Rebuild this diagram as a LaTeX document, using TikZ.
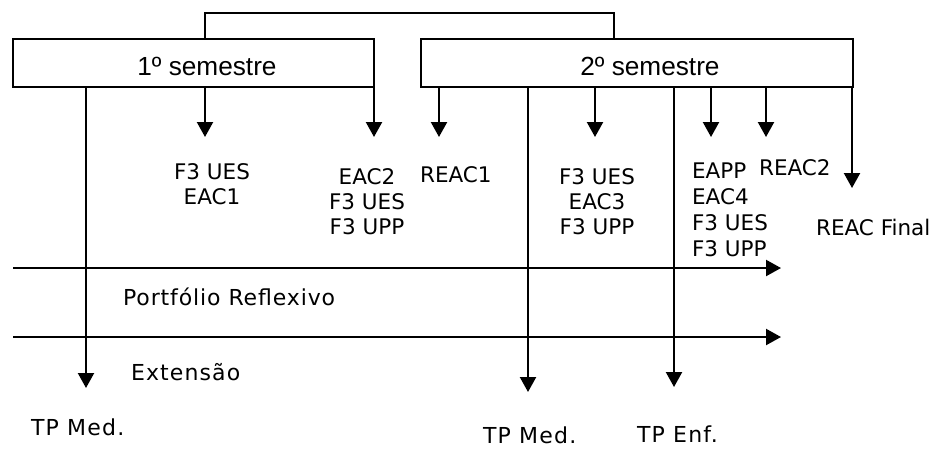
\documentclass[tikz,border=0pt]{standalone}
\usepackage{fontspec}
\setmainfont{DejaVu Sans}
\newfontfamily\semfont{Liberation Sans}
\usetikzlibrary{arrows.meta}

\begin{document}
\begin{tikzpicture}[x=1pt,y=-1pt,line width=2.2pt,
  arr/.style={-{Triangle[width=16pt,length=15pt]}},
  sembox/.style={draw,minimum height=48pt,inner sep=0pt},
  semtxt/.style={font=\semfont\fontsize{26.2}{30}\selectfont,inner sep=0pt},
  lbl/.style={font=\fontsize{21.5}{25}\selectfont,inner sep=0pt},
  lblc/.style={lbl,align=center,anchor=north},
  lbll/.style={lbl,align=left,anchor=north west},
  lblb/.style={lbl,anchor=base west},
  wide/.style={font=\fontsize{22}{25}\selectfont\addfontfeatures{LetterSpace=#1}}]
\useasboundingbox (0,0) rectangle (934,451);

% semester boxes and their titles
\node[sembox,minimum width=361pt] (s1) at (193.5,63) {};
\node[sembox,minimum width=432pt] (s2) at (637,63) {};
\node[semtxt] (t1) at (207,66) {1º semestre};
\node[semtxt] (t2) at (650,66) {2º semestre};

% bracket joining both semesters
\coordinate (j1) at (205,13);
\coordinate (j2) at (614,13);
\draw (s1.north -| j1) -- (j1) -- (j2) -- (s2.north -| j2);

% assessment labels
\node[lblc] (a1) at (212,162) {F3 UES\\EAC1};
\node[lblc] (a2) at (367,167) {EAC2\\F3 UES\\F3 UPP};
\node[lblb] (a3) at (419,182) {REAC1};
\node[lblc] (a4) at (597,167) {F3 UES\\EAC3\\F3 UPP};
\node[lbll,font=\fontsize{21.5}{26}\selectfont] (a5) at (691,162) {EAPP\\EAC4\\F3 UES\\F3 UPP};
\node[lblb] (a6) at (758,175) {REAC2};
\node[lblb] (a7) at (815,235) {REAC Final};
\node[lblb,wide=4] (p) at (122,305) {Portfólio Reflexivo};
\node[lblb,wide=5] (e) at (130,380) {Extensão};
\node[lblb,wide=5.5] (tp1) at (30,435) {TP Med.};
\node[lblb,wide=5.5] (tp2) at (482,443) {TP Med.};
\node[lblb,wide=5.5] (tp3) at (636,442) {TP Enf.};

% short arrows below the boxes
\coordinate (e1) at (205,137);
\coordinate (e2) at (374,137);
\coordinate (e3) at (439,137);
\coordinate (e4) at (595,137);
\coordinate (e5) at (711,137);
\coordinate (e6) at (766,137);
\coordinate (e7) at (852,188);
\draw[arr] (s1.south -| e1) -- (e1);
\draw[arr] (s1.south -| e2) -- (e2);
\draw[arr] (s2.south -| e3) -- (e3);
\draw[arr] (s2.south -| e4) -- (e4);
\draw[arr] (s2.south -| e5) -- (e5);
\draw[arr] (s2.south -| e6) -- (e6);
\draw[arr] (s2.south -| e7) -- (e7);

% long arrows down to the TP labels
\coordinate (l1) at (86,388);
\coordinate (l2) at (528,392);
\coordinate (l3) at (674,387);
\draw[arr] (s1.south -| l1) -- (l1);
\draw[arr] (s2.south -| l2) -- (l2);
\draw[arr] (s2.south -| l3) -- (l3);

% horizontal time lines
\coordinate (h1a) at (13,268);
\coordinate (h1b) at (781,268);
\coordinate (h2a) at (13,337);
\coordinate (h2b) at (781,337);
\draw[arr] (h1a) -- (h1b);
\draw[arr] (h2a) -- (h2b);
\end{tikzpicture}
\end{document}
